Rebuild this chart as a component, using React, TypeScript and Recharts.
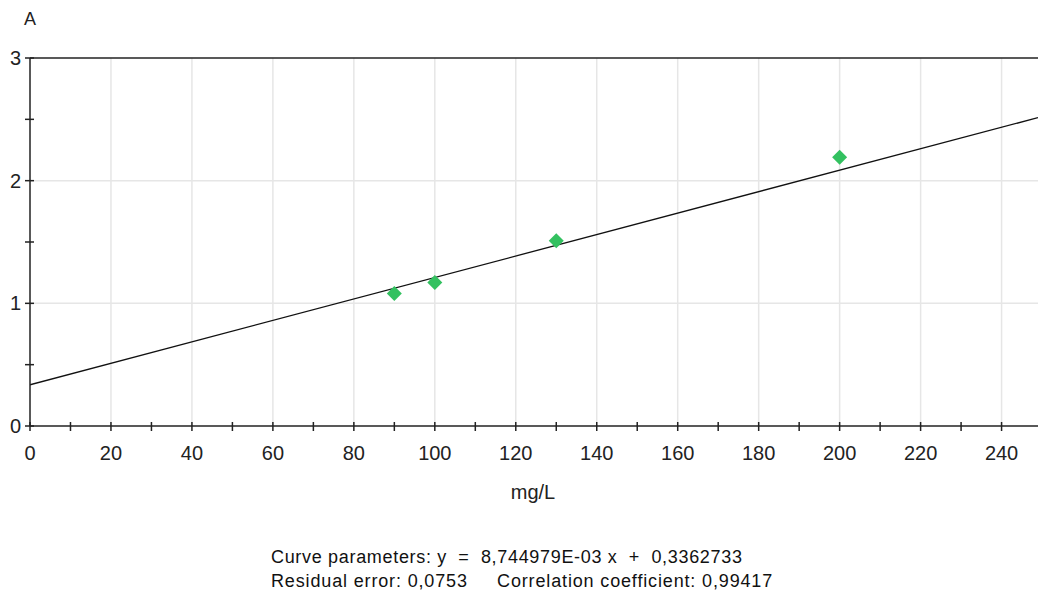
import React from 'react';
import {
  ComposedChart, Line, Scatter, XAxis, YAxis, ReferenceLine,
} from 'recharts';

// measured points (mg/L vs absorbance)
const conc = [90, 100, 130, 200];
const absorb = [1.08, 1.17, 1.51, 2.19];

// fitted line endpoints, y = 8,744979E-03 x + 0,3362733
const fitX = [0, 249];
const fitY = [0.3363, 2.5138];

const xTicks = [0, 10, 20, 30, 40, 50, 60, 70, 80, 90, 100, 110, 120, 130, 140, 150, 160, 170, 180, 190, 200, 210, 220, 230, 240];
const xGrid = [20, 40, 60, 80, 100, 120, 140, 160, 180, 200, 220, 240];
const yTicks = [0, 0.5, 1, 1.5, 2, 2.5, 3];
const yGrid = [1, 2];

const points = conc.map((c, i) => ({ x: c, y: absorb[i] }));
const fitLine = fitX.map((x, i) => ({ x, y: fitY[i] }));

const FONT = '"Liberation Sans", Arial, sans-serif';
const TEXT = '#222';

const XTick = (props: any) => {
  const { x, y, payload } = props;
  const major = payload.value % 20 === 0;
  return (
    <g>
      <line x1={x} x2={x} y1={y - 4} y2={y + 5} stroke="#222" strokeWidth={1.5} />
      {major && (
        <text x={x} y={y + 34} textAnchor="middle" fontSize={20} fill={TEXT} fontFamily={FONT}>
          {payload.value}
        </text>
      )}
    </g>
  );
};

const YTick = (props: any) => {
  const { x, y, payload } = props;
  const major = payload.value % 1 === 0;
  return (
    <g>
      <line x1={x - 5} x2={x + 4} y1={y} y2={y} stroke="#222" strokeWidth={1.5} />
      {major && (
        <text x={x - 9} y={y + 7} textAnchor="end" fontSize={20} fill={TEXT} fontFamily={FONT}>
          {payload.value}
        </text>
      )}
    </g>
  );
};

const Diamond = (props: any) => {
  const { cx, cy } = props;
  const r = 7.5;
  return <path d={`M${cx},${cy - r}L${cx + r},${cy}L${cx},${cy + r}L${cx - r},${cy}Z`} fill="#33c160" />;
};

export default function App() {
  return (
    <div style={{ position: 'absolute', left: 0, top: 0, width: 1038, height: 594, background: '#fff', fontFamily: FONT }}>
      <ComposedChart width={1038} height={594} margin={{ top: 58, right: 0, bottom: 0, left: 0 }}>
        <XAxis
          dataKey="x"
          type="number"
          domain={[0, 249]}
          ticks={xTicks}
          interval={0}
          tick={<XTick />}
          tickLine={false}
          tickSize={0}
          tickMargin={0}
          axisLine={{ stroke: '#222', strokeWidth: 1.5 }}
          height={168}
          allowDataOverflow
        />
        <YAxis
          dataKey="y"
          type="number"
          domain={[0, 3]}
          ticks={yTicks}
          interval={0}
          tick={<YTick />}
          tickLine={false}
          tickSize={0}
          tickMargin={0}
          axisLine={{ stroke: '#222', strokeWidth: 1.5 }}
          width={30}
          allowDataOverflow
        />
        {xGrid.map((v) => (
          <ReferenceLine key={'gx' + v} x={v} stroke="#e6e6e6" strokeWidth={1.5} />
        ))}
        {yGrid.map((v) => (
          <ReferenceLine key={'gy' + v} y={v} stroke="#e6e6e6" strokeWidth={1.5} />
        ))}
        <ReferenceLine y={3} stroke="#222" strokeWidth={1.5} />
        <Line
          data={fitLine}
          dataKey="y"
          type="linear"
          stroke="#111"
          strokeWidth={1.3}
          dot={false}
          isAnimationActive={false}
        />
        <Scatter data={points} dataKey="y" shape={<Diamond />} isAnimationActive={false} />
      </ComposedChart>
      <div style={{ position: 'absolute', left: 24, top: 9, fontSize: 18, color: TEXT }}>A</div>
      <div style={{ position: 'absolute', left: 0, width: 1066, top: 481, textAlign: 'center', fontSize: 20, color: TEXT }}>mg/L</div>
      <div style={{ position: 'absolute', left: 271, top: 545, fontSize: 18, color: '#111', lineHeight: '24px', whiteSpace: 'pre' }}>
        <div style={{ letterSpacing: 0.68 }}>{'Curve parameters: y  =  8,744979E-03 x  +  0,3362733'}</div>
        <div style={{ letterSpacing: 0.85 }}>{'Residual error: 0,0753     Correlation coefficient: 0,99417'}</div>
      </div>
    </div>
  );
}
